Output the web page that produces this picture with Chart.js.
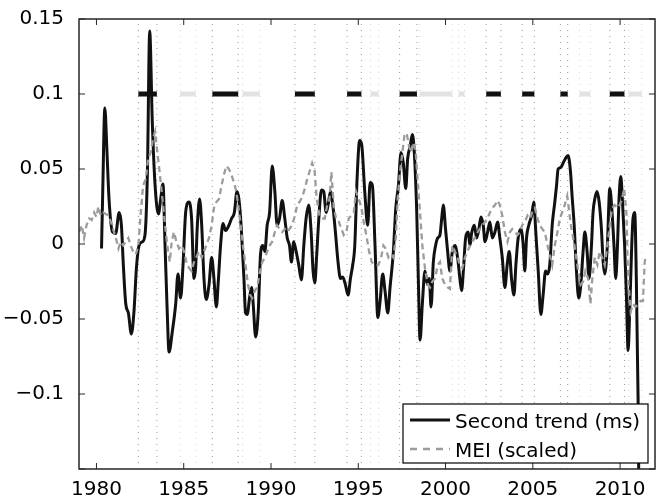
<!DOCTYPE html>
<html>
<head>
<meta charset="utf-8">
<script src="https://cdn.jsdelivr.net/npm/chart.js@4/dist/chart.umd.min.js"></script>
<style>
  html, body { margin: 0; padding: 0; background: #fff; }
  #wrap { width: 657px; height: 502px; }
</style>
</head>
<body>
<div id="wrap"><canvas id="c" width="657" height="502"></canvas></div>
<script>
// second trend (ms)
const trendYears = [1980.29, 1980.36, 1980.48, 1980.60, 1980.72, 1980.92, 1981.10, 1981.30, 1981.43, 1981.54,
  1981.68, 1981.83, 1982.00, 1982.15, 1982.29, 1982.44, 1982.63, 1982.78, 1982.92, 1983.05,
  1983.20, 1983.36, 1983.55, 1983.68, 1983.81, 1983.93, 1984.04, 1984.16, 1984.35, 1984.54,
  1984.67, 1984.82, 1984.96, 1985.11, 1985.30, 1985.45, 1985.59, 1985.68, 1985.78, 1985.91,
  1986.03, 1986.16, 1986.29, 1986.45, 1986.60, 1986.73, 1986.87, 1986.98, 1987.11, 1987.25,
  1987.40, 1987.59, 1987.74, 1987.90, 1988.05, 1988.16, 1988.30, 1988.45, 1988.54, 1988.64,
  1988.77, 1988.89, 1988.98, 1989.12, 1989.27, 1989.40, 1989.53, 1989.65, 1989.78, 1989.92,
  1990.07, 1990.22, 1990.35, 1990.49, 1990.64, 1990.79, 1990.93, 1991.06, 1991.17, 1991.30,
  1991.44, 1991.59, 1991.74, 1991.88, 1992.01, 1992.16, 1992.30, 1992.41, 1992.51, 1992.62,
  1992.74, 1992.89, 1993.02, 1993.16, 1993.27, 1993.41, 1993.54, 1993.69, 1993.84, 1993.98,
  1994.11, 1994.26, 1994.42, 1994.55, 1994.68, 1994.80, 1994.93, 1995.08, 1995.20, 1995.37,
  1995.54, 1995.68, 1995.81, 1995.96, 1996.12, 1996.25, 1996.40, 1996.53, 1996.69, 1996.82,
  1997.01, 1997.15, 1997.30, 1997.45, 1997.58, 1997.72, 1997.83, 1997.97, 1998.10, 1998.21,
  1998.35, 1998.44, 1998.54, 1998.67, 1998.82, 1998.96, 1999.07, 1999.17, 1999.30, 1999.43,
  1999.55, 1999.68, 1999.78, 1999.87, 2000.00, 2000.12, 2000.25, 2000.39, 2000.54, 2000.69,
  2000.82, 2000.92, 2001.02, 2001.15, 2001.30, 2001.40, 2001.49, 2001.65, 2001.78, 2001.91,
  2002.03, 2002.16, 2002.26, 2002.41, 2002.54, 2002.68, 2002.83, 2002.98, 2003.11, 2003.25,
  2003.40, 2003.53, 2003.65, 2003.78, 2003.92, 2004.03, 2004.16, 2004.32, 2004.45, 2004.54,
  2004.64, 2004.77, 2004.93, 2005.06, 2005.17, 2005.31, 2005.46, 2005.59, 2005.73, 2005.84,
  2005.97, 2006.11, 2006.26, 2006.36, 2006.45, 2006.60, 2006.74, 2006.87, 2007.02, 2007.16,
  2007.25, 2007.37, 2007.50, 2007.63, 2007.75, 2007.88, 2007.98, 2008.11, 2008.22, 2008.36,
  2008.45, 2008.55, 2008.68, 2008.80, 2008.93, 2009.03, 2009.12, 2009.27, 2009.41, 2009.54,
  2009.65, 2009.75, 2009.85, 2009.94, 2010.04, 2010.13, 2010.26, 2010.36, 2010.46, 2010.55,
  2010.65, 2010.74, 2010.84, 2010.93, 2011.03, 2011.08];
const trendValues = [-0.003, 0.035, 0.0906, 0.062, 0.030, 0.008, 0.007, 0.021, 0.0125, -0.014,
  -0.040, -0.046, -0.060, -0.045, -0.016, -0.001, 0.0015, 0.006, 0.048, 0.142,
  0.081, 0.039, 0.020, 0.030, 0.040, -0.001, -0.040, -0.072, -0.058, -0.040,
  -0.020, -0.036, -0.014, 0.021, 0.028, 0.017, -0.023, -0.016, 0.0125, 0.030,
  0.0125, -0.023, -0.037, -0.027, -0.009, -0.023, -0.042, -0.025, -0.001, 0.0136,
  0.009, 0.0125, 0.017, 0.021, 0.035, 0.030, 0.010, -0.023, -0.046, -0.047,
  -0.036, -0.029, -0.040, -0.062, -0.045, -0.007, -0.001, -0.005, 0.0125, 0.021,
  0.052, 0.035, 0.0125, 0.017, 0.029, 0.017, 0.004, -0.001, -0.012, 0.0015,
  -0.005, -0.014, -0.024, -0.001, 0.017, 0.026, 0.008, -0.018, -0.026, -0.007,
  0.017, 0.036, 0.035, 0.021, 0.026, 0.035, 0.026, 0.008, -0.012, -0.023,
  -0.022, -0.027, -0.034, -0.023, -0.014, -0.001, 0.043, 0.069, 0.066, 0.035,
  0.0125, 0.041, 0.039, -0.001, -0.049, -0.038, -0.020, -0.031, -0.046, -0.029,
  -0.005, 0.024, 0.039, 0.061, 0.054, 0.037, 0.057, 0.065, 0.073, 0.061,
  0.021, -0.023, -0.064, -0.040, -0.018, -0.027, -0.023, -0.042, -0.012, -0.001,
  0.004, 0.006, 0.017, 0.026, 0.010, -0.005, -0.018, -0.005, -0.001, -0.009,
  -0.023, -0.031, -0.018, 0.004, 0.008, -0.001, 0.007, 0.0125, 0.004, 0.010,
  0.018, 0.0125, 0.0015, 0.008, 0.0147, 0.004, 0.008, 0.0147, 0.004, -0.009,
  -0.029, -0.014, -0.005, -0.023, -0.034, -0.014, 0.004, 0.010, -0.001, -0.018,
  0.004, 0.0125, 0.019, 0.028, 0.008, -0.018, -0.047, -0.034, -0.018, -0.020,
  -0.014, 0.0125, 0.028, 0.039, 0.050, 0.051, 0.054, 0.057, 0.059, 0.048,
  0.032, 0.0125, -0.018, -0.036, -0.027, -0.005, 0.008, -0.005, -0.023, -0.001,
  0.021, 0.030, 0.035, 0.028, 0.010, -0.012, -0.020, -0.001, 0.037, 0.021,
  -0.001, -0.023, -0.001, 0.030, 0.045, 0.030, -0.001, -0.034, -0.071, -0.045,
  -0.007, 0.017, 0.021, -0.023, -0.102, -0.170];

// MEI (scaled)
const meiYears = [1979.01, 1979.16, 1979.29, 1979.43, 1979.58, 1979.73, 1979.87, 1980.00, 1980.11, 1980.25,
  1980.38, 1980.53, 1980.69, 1980.82, 1980.95, 1981.11, 1981.26, 1981.39, 1981.53, 1981.68,
  1981.83, 1981.96, 1982.10, 1982.25, 1982.40, 1982.54, 1982.67, 1982.82, 1982.96, 1983.11,
  1983.24, 1983.36, 1983.49, 1983.62, 1983.78, 1983.93, 1984.06, 1984.20, 1984.31, 1984.44,
  1984.58, 1984.73, 1984.88, 1985.02, 1985.15, 1985.30, 1985.45, 1985.59, 1985.72, 1985.87,
  1986.03, 1986.16, 1986.29, 1986.45, 1986.60, 1986.73, 1986.87, 1987.02, 1987.17, 1987.30,
  1987.44, 1987.59, 1987.74, 1987.88, 1988.01, 1988.12, 1988.26, 1988.39, 1988.54, 1988.68,
  1988.81, 1988.92, 1989.08, 1989.21, 1989.34, 1989.50, 1989.65, 1989.78, 1989.92, 1990.07,
  1990.22, 1990.35, 1990.49, 1990.64, 1990.79, 1990.93, 1991.06, 1991.21, 1991.37, 1991.50,
  1991.63, 1991.78, 1991.94, 1992.07, 1992.20, 1992.36, 1992.49, 1992.62, 1992.78, 1992.93,
  1993.08, 1993.22, 1993.35, 1993.46, 1993.60, 1993.73, 1993.88, 1994.04, 1994.17, 1994.32,
  1994.45, 1994.60, 1994.74, 1994.87, 1995.03, 1995.18, 1995.31, 1995.49, 1995.62, 1995.77,
  1995.96, 1996.15, 1996.31, 1996.44, 1996.57, 1996.73, 1996.88, 1997.01, 1997.15, 1997.26,
  1997.39, 1997.53, 1997.64, 1997.77, 1997.91, 1998.02, 1998.16, 1998.29, 1998.40, 1998.54,
  1998.67, 1998.82, 1998.98, 1999.11, 1999.24, 1999.40, 1999.55, 1999.68, 1999.81, 1999.97,
  2000.12, 2000.25, 2000.39, 2000.54, 2000.69, 2000.82, 2000.96, 2001.11, 2001.26, 2001.40,
  2001.53, 2001.68, 2001.84, 2001.97, 2002.10, 2002.26, 2002.41, 2002.54, 2002.68, 2002.83,
  2002.98, 2003.11, 2003.25, 2003.40, 2003.55, 2003.69, 2003.82, 2003.97, 2004.12, 2004.26,
  2004.39, 2004.54, 2004.70, 2004.83, 2004.96, 2005.12, 2005.27, 2005.40, 2005.54, 2005.69,
  2005.84, 2005.97, 2006.11, 2006.26, 2006.41, 2006.55, 2006.68, 2006.83, 2006.97, 2007.06,
  2007.18, 2007.31, 2007.44, 2007.60, 2007.75, 2007.88, 2008.01, 2008.17, 2008.30, 2008.41,
  2008.55, 2008.70, 2008.83, 2008.97, 2009.12, 2009.27, 2009.41, 2009.54, 2009.69, 2009.85,
  2009.98, 2010.11, 2010.23, 2010.36, 2010.46, 2010.61, 2010.74, 2010.88, 2011.03, 2011.18,
  2011.31, 2011.41, 2011.45];
const meiValues = [0.008, 0.0125, 0.004, 0.0125, 0.017, 0.016, 0.021, 0.018, 0.025, 0.019,
  0.021, 0.020, 0.019, 0.015, 0.010, 0.004, -0.003, 0.0015, -0.001, 0.0015,
  0.004, -0.001, -0.005, -0.007, -0.001, 0.021, 0.039, 0.043, 0.057, 0.061,
  0.070, 0.075, 0.061, 0.048, 0.030, 0.0125, -0.001, -0.012, 0.0015, 0.008,
  0.0015, -0.003, -0.001, -0.005, -0.012, -0.016, -0.018, -0.012, -0.009, -0.005,
  -0.009, -0.005, -0.001, 0.004, 0.0125, 0.024, 0.028, 0.030, 0.039, 0.046,
  0.052, 0.050, 0.046, 0.041, 0.035, 0.026, 0.0125, -0.001, -0.014, -0.027,
  -0.034, -0.036, -0.031, -0.029, -0.020, -0.012, -0.009, -0.005, -0.001, 0.0015,
  0.008, 0.0125, 0.010, 0.008, 0.010, 0.008, 0.010, 0.0125, 0.019, 0.026,
  0.028, 0.031, 0.037, 0.043, 0.048, 0.054, 0.050, 0.030, 0.019, 0.017,
  0.017, 0.026, 0.030, 0.048, 0.024, 0.017, 0.015, 0.010, 0.006, 0.008,
  0.017, 0.019, 0.021, 0.035, 0.030, 0.024, 0.015, 0.004, -0.005, -0.012,
  -0.014, -0.014, -0.009, -0.001, -0.003, -0.009, -0.007, -0.009, 0.004, 0.030,
  0.048, 0.061, 0.072, 0.074, 0.065, 0.061, 0.0675, 0.061, 0.043, 0.021,
  -0.001, -0.016, -0.027, -0.029, -0.025, -0.023, -0.014, -0.012, -0.023, -0.027,
  -0.029, -0.030, -0.001, -0.005, -0.009, -0.014, -0.016, -0.009, -0.005, -0.001,
  0.0015, 0.004, 0.008, 0.010, 0.0125, 0.0147, 0.017, 0.021, 0.024, 0.026,
  0.029, 0.026, 0.019, 0.008, 0.0015, 0.008, 0.010, 0.008, 0.006, 0.008,
  0.0125, 0.0147, 0.019, 0.017, 0.021, 0.024, 0.017, 0.0125, 0.010, 0.008,
  -0.001, -0.007, -0.014, -0.001, 0.008, 0.017, 0.021, 0.026, 0.032, 0.024,
  0.0125, 0.004, -0.005, -0.018, -0.027, -0.025, -0.018, -0.023, -0.040, -0.023,
  -0.009, -0.014, -0.005, -0.009, -0.014, -0.001, 0.0125, 0.024, 0.026, 0.024,
  0.026, 0.030, 0.037, 0.021, -0.023, -0.045, -0.040, -0.042, -0.040, -0.038,
  -0.038, -0.012, -0.009];

// El Nino (black bars) and La Nina (grey bars) episodes
const ninoStart = [1982.40, 1986.64, 1991.37, 1994.36, 1997.37, 2002.33, 2004.39, 2006.58, 2009.41];
const ninoEnd   = [1983.46, 1988.12, 1992.51, 1995.18, 1998.36, 2003.17, 2005.09, 2007.00, 2010.25];
const ninaStart = [1984.79, 1988.37, 1995.70, 1998.52, 2000.75, 2007.67, 2010.49];
const ninaEnd   = [1985.69, 1989.36, 1996.17, 2000.39, 2001.09, 2008.30, 2011.24];
const barLevel = 0.1;

const xTicks = [1980, 1985, 1990, 1995, 2000, 2005, 2010];
const yTicks = [-0.15, -0.1, -0.05, 0, 0.05, 0.1, 0.15];
const yLabels = ['', '\u22120.1', '\u22120.05', '0', '0.05', '0.1', '0.15'];

const FONT = { family: 'DejaVu Sans', size: 20 };

function pairs(xs, ys) {
  return xs.map((x, i) => ({ x: x, y: ys[i] }));
}
function bars(starts, ends) {
  const d = [];
  starts.forEach((s, i) => {
    d.push({ x: s, y: barLevel }, { x: ends[i], y: barLevel }, { x: ends[i], y: null });
  });
  return d;
}
function edges(starts, ends) {
  const d = [];
  starts.concat(ends).forEach(x => {
    d.push({ x: x, y: -0.15 }, { x: x, y: 0.15 }, { x: x, y: null });
  });
  return d;
}

const frame = {
  id: 'frame',
  afterDatasetsDraw(chart) {
    const { ctx, chartArea: a, scales } = chart;
    const x = scales.x, y = scales.y;
    ctx.save();
    ctx.strokeStyle = '#262626';
    ctx.lineWidth = 1.5;
    ctx.strokeRect(a.left, a.top, a.right - a.left, a.bottom - a.top);
    ctx.beginPath();
    xTicks.forEach(v => {
      const p = x.getPixelForValue(v);
      ctx.moveTo(p, a.bottom); ctx.lineTo(p, a.bottom - 6);
      ctx.moveTo(p, a.top); ctx.lineTo(p, a.top + 6);
    });
    yTicks.forEach(v => {
      const p = y.getPixelForValue(v);
      ctx.moveTo(a.left, p); ctx.lineTo(a.left + 6, p);
      ctx.moveTo(a.right, p); ctx.lineTo(a.right - 6, p);
    });
    ctx.lineWidth = 1;
    ctx.stroke();

    // legend box, bottom right inside the axes
    const bx = a.right - 252, by = a.bottom - 65, bw = 245, bh = 59;
    ctx.fillStyle = '#fff';
    ctx.fillRect(bx, by, bw, bh);
    ctx.strokeStyle = '#000';
    ctx.lineWidth = 1.2;
    ctx.strokeRect(bx, by, bw, bh);
    const items = chart.data.datasets.filter(d => d.legendRow !== undefined)
      .sort((p, q) => p.legendRow - q.legendRow);
    items.forEach((d, i) => {
      const ly = by + 16 + i * 29;
      ctx.beginPath();
      ctx.setLineDash(d.legendDash || []);
      ctx.strokeStyle = d.borderColor;
      ctx.lineWidth = d.borderWidth;
      ctx.moveTo(bx + 7, ly);
      ctx.lineTo(bx + 47, ly);
      ctx.stroke();
      ctx.setLineDash([]);
      ctx.fillStyle = '#000';
      ctx.font = FONT.size + 'px "' + FONT.family + '"';
      ctx.textBaseline = 'alphabetic';
      ctx.fillText(d.label, bx + 52, ly + 8);
    });
    ctx.restore();
  }
};

new Chart(document.getElementById('c'), {
  type: 'line',
  data: {
    datasets: [
      {
        label: 'MEI (scaled)', legendRow: 1, legendDash: [7, 6],
        data: pairs(meiYears, meiValues),
        borderColor: '#9c9c9c', borderWidth: 2.3, borderDash: [6, 4],
        pointRadius: 0, tension: 0, order: 1
      },
      {
        label: 'Second trend (ms)', legendRow: 0,
        data: pairs(trendYears, trendValues),
        borderColor: '#111', borderWidth: 3,
        pointRadius: 0, cubicInterpolationMode: 'monotone', order: 2
      },
      {
        label: 'El Nino', data: bars(ninoStart, ninoEnd),
        borderColor: '#111', borderWidth: 5, borderCapStyle: 'butt',
        pointRadius: 0, spanGaps: false, order: 3
      },
      {
        label: 'La Nina', data: bars(ninaStart, ninaEnd),
        borderColor: '#e2e2e2', borderWidth: 5, borderCapStyle: 'butt',
        pointRadius: 0, spanGaps: false, order: 4
      },
      {
        label: 'El Nino edges', data: edges(ninoStart, ninoEnd),
        borderColor: '#9a9a9a', borderWidth: 1, borderDash: [1, 5],
        pointRadius: 0, spanGaps: false, order: 5
      },
      {
        label: 'La Nina edges', data: edges(ninaStart, ninaEnd),
        borderColor: '#d4d4d4', borderWidth: 1, borderDash: [1, 5],
        pointRadius: 0, spanGaps: false, order: 6
      }
    ]
  },
  options: {
    responsive: false,
    animation: false,
    events: [],
    clip: 0,
    layout: { padding: { top: 16, right: 2, left: 0, bottom: 0 } },
    plugins: {
      legend: { display: false },
      tooltip: { enabled: false }
    },
    scales: {
      x: {
        type: 'linear', min: 1979, max: 2012,
        afterBuildTicks: s => { s.ticks = xTicks.map(v => ({ value: v })); },
        afterFit: s => { s.height = 33; },
        grid: { display: false },
        border: { display: false },
        ticks: {
          color: '#000', font: FONT, padding: 1, maxRotation: 0, autoSkip: false,
          callback: v => String(v)
        }
      },
      y: {
        type: 'linear', min: -0.15, max: 0.15,
        afterBuildTicks: s => { s.ticks = yTicks.map(v => ({ value: v })); },
        afterFit: s => { s.width = 79; },
        grid: { display: false },
        border: { display: false },
        ticks: {
          color: '#000', font: FONT, padding: 7, autoSkip: false,
          callback: v => yLabels[yTicks.indexOf(v)]
        }
      }
    }
  },
  plugins: [frame]
});
</script>
</body>
</html>
